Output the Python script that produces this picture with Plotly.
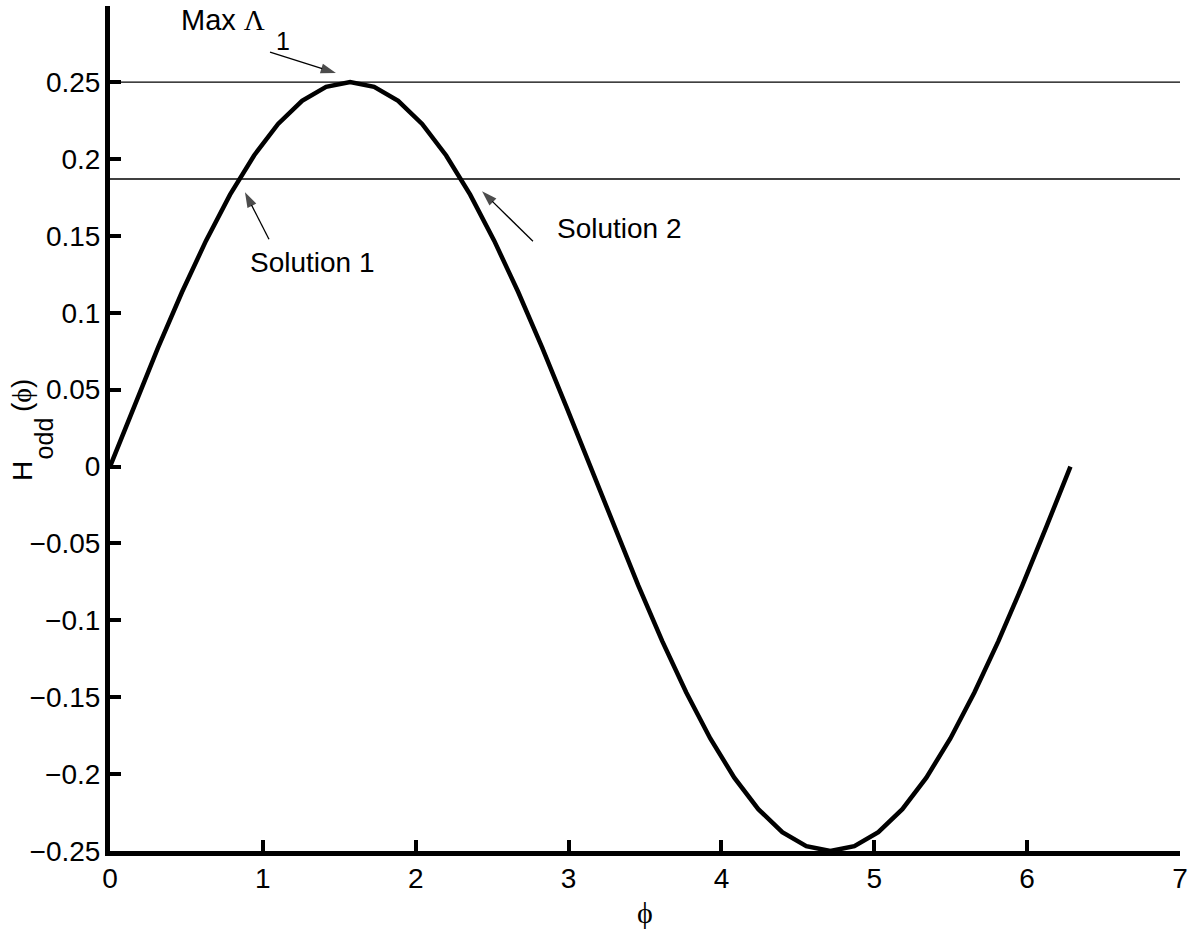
import plotly.graph_objects as go

# Phase samples (rad) and the odd part of the interaction function
phi = [0.0, 0.1571, 0.3142, 0.4712, 0.6283, 0.7854, 0.9425, 1.0996, 1.2566, 1.4137,
       1.5708, 1.7279, 1.8850, 2.0420, 2.1991, 2.3562, 2.5133, 2.6704, 2.8274, 2.9845,
       3.1416, 3.2987, 3.4558, 3.6128, 3.7699, 3.9270, 4.0841, 4.2412, 4.3982, 4.5553,
       4.7124, 4.8695, 5.0265, 5.1836, 5.3407, 5.4978, 5.6549, 5.8119, 5.9690, 6.1261,
       6.2832]
h_odd = [0.0, 0.0391, 0.0773, 0.1135, 0.1469, 0.1768, 0.2023, 0.2228, 0.2378, 0.2469,
         0.25, 0.2469, 0.2378, 0.2228, 0.2023, 0.1768, 0.1469, 0.1135, 0.0773, 0.0391,
         0.0, -0.0391, -0.0773, -0.1135, -0.1469, -0.1768, -0.2023, -0.2228, -0.2378, -0.2469,
         -0.25, -0.2469, -0.2378, -0.2228, -0.2023, -0.1768, -0.1469, -0.1135, -0.0773, -0.0391,
         0.0]

# Horizontal reference levels: max Lambda_1 and the chosen Lambda_1
max_lambda = 0.25
lambda_1 = 0.187

x_ticks = [0, 1, 2, 3, 4, 5, 6, 7]
y_ticks = [-0.25, -0.2, -0.15, -0.1, -0.05, 0, 0.05, 0.1, 0.15, 0.2, 0.25]
y_tick_text = ["\u22120.25", "\u22120.2", "\u22120.15", "\u22120.1", "\u22120.05", "0",
               "0.05", "0.1", "0.15", "0.2", "0.25"]

SANS = "Liberation Sans, Arial, sans-serif"
SERIF = "Liberation Serif, Times New Roman, serif"
FS = 28
SUB = 25
LAM = f'<span style="font-family:{SERIF}">\u039b</span>'
PHI = f'<span style="font-family:{SERIF}">\u03d5</span>'

fig = go.Figure()
for level in (max_lambda, lambda_1):
    fig.add_trace(go.Scatter(x=[0, 7], y=[level, level], mode="lines",
                             line=dict(color="black", width=1.4), hoverinfo="skip"))
fig.add_trace(go.Scatter(x=phi, y=h_odd, mode="lines",
                         line=dict(color="black", width=4.5)))

# Pointer arrows: (tail x, tail y) -> (head x, head y)
pointers = [((1.047, 0.2695), (1.478, 0.2559)),
            ((1.040, 0.1478), (0.883, 0.1784)),
            ((2.767, 0.1465), (2.434, 0.1790))]
for (tx, ty), (hx, hy) in pointers:
    fig.add_trace(go.Scatter(
        x=[tx, hx], y=[ty, hy], mode="lines+markers", hoverinfo="skip",
        line=dict(color="black", width=1.3),
        marker=dict(symbol=["circle", "arrow"], size=[0, 16], color="black",
                    angleref="previous", line=dict(width=0))))

axis_common = dict(showgrid=False, zeroline=False, showline=True, linecolor="black",
                   linewidth=5, ticks="inside", ticklen=11, tickwidth=4,
                   tickcolor="black", mirror=False,
                   tickfont=dict(family=SANS, size=FS, color="black"))

fig.update_xaxes(range=[0, 7], tickvals=x_ticks, ticktext=[str(v) for v in x_ticks],
                 ticklabelstandoff=-2, **axis_common)
fig.update_yaxes(range=[-0.25, 0.2995], tickvals=y_ticks, ticktext=y_tick_text,
                 ticklabelstandoff=-1, **axis_common)

txt = dict(showarrow=False, xref="x", yref="y",
           font=dict(family=SANS, size=FS, color="black"))
sub = dict(showarrow=False, xref="x", yref="y",
           font=dict(family=SANS, size=SUB, color="black"))

# "Max Lambda_1" label
fig.add_annotation(x=0.451, y=0.2904, xanchor="left", yanchor="middle",
                   text=f"Max {LAM}", showarrow=False, xref="x", yref="y",
                   font=dict(family=SANS, size=29, color="black"))
fig.add_annotation(x=1.135, y=0.2767, xanchor="center", yanchor="middle",
                   text="1", **sub)
# "Lambda_1" level label beside the axis
fig.add_annotation(x=-0.366, y=0.1803, xanchor="center", yanchor="middle",
                   text=LAM, **txt)
fig.add_annotation(x=-0.249, y=0.1719, xanchor="center", yanchor="middle",
                   text="1", **sub)

fig.add_annotation(x=1.3215, y=0.1328, xanchor="center", yanchor="middle",
                   text="Solution 1", **txt)
fig.add_annotation(x=3.33, y=0.155, xanchor="center", yanchor="middle",
                   text="Solution 2", **txt)

# Axis titles
fig.add_annotation(x=3.5, y=-0.0722, xref="x", yref="paper", xanchor="center",
                   yanchor="middle", showarrow=False, text=PHI,
                   font=dict(family=SANS, size=30, color="black"))
ytitle = dict(xref="paper", yref="paper", xanchor="center", yanchor="middle",
              showarrow=False, textangle=-90)
fig.add_annotation(x=-0.0822, y=0.4497, text="H",
                   font=dict(family=SANS, size=FS, color="black"), **ytitle)
fig.add_annotation(x=-0.0608, y=0.4882, text="odd",
                   font=dict(family=SANS, size=SUB, color="black"), **ytitle)
fig.add_annotation(x=-0.0827, y=0.5391, text=f"({PHI})",
                   font=dict(family=SANS, size=FS, color="black"), **ytitle)

fig.update_layout(width=1204, height=929, showlegend=False,
                  plot_bgcolor="white", paper_bgcolor="white",
                  margin=dict(l=110, r=24, t=6, b=78))

fig.write_html("out.html")
